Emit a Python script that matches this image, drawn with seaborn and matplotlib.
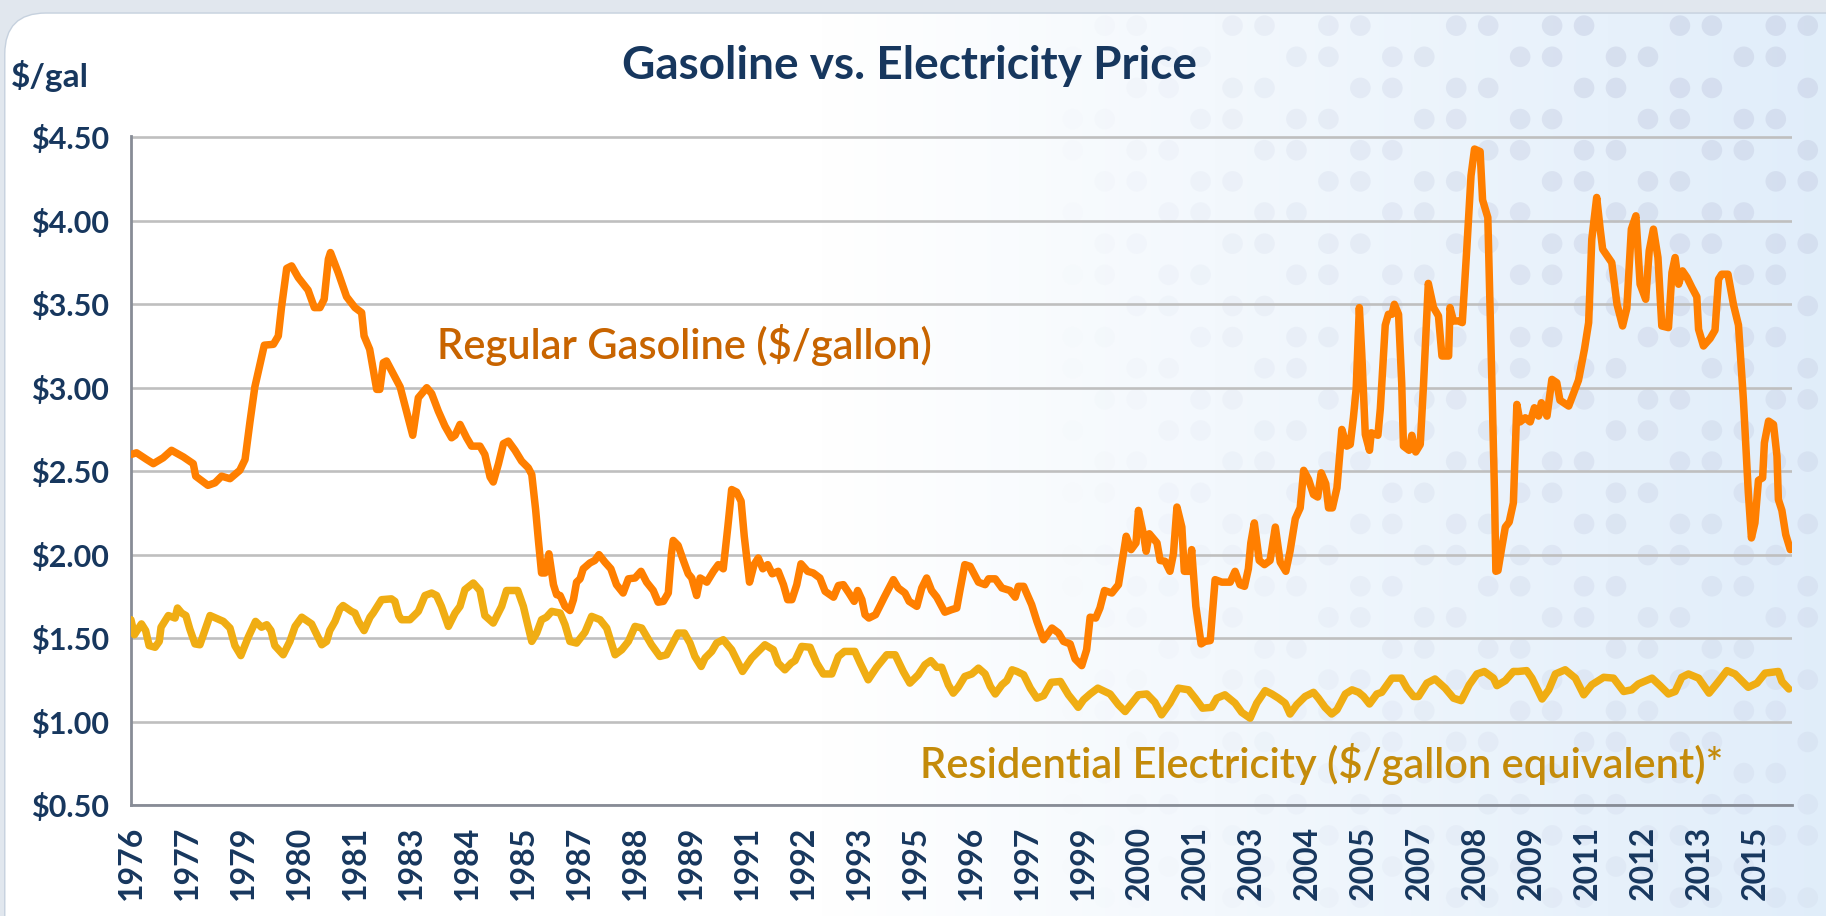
import numpy as np
import matplotlib
matplotlib.use('Agg')
import matplotlib.pyplot as plt
import seaborn as sns
from matplotlib.patches import FancyBboxPatch

# values; month index 0 = first month on the axis
gas_month = [0, 1.6, 4.5, 6.4, 9.2, 11.6, 15, 17.8, 18.5, 22, 24, 25.9, 28.3, 31.1, 32.6, 34, 35.4, 38.1,
             40.7, 42.1, 43, 44.5, 45.9, 47.8, 50.6, 52.4, 54, 55.2, 56.4, 57, 59.2, 61.6, 64, 65.9, 66.6,
             68.2, 70.2, 71.1, 72.1, 73, 75, 76.9, 78.7, 80.5, 82.1, 84.5, 85.9, 87.8, 89.7, 91.6, 92.6,
             94, 95.9, 97.3, 99.7, 101.1, 102.6, 103.5, 105, 106.4, 107.8, 109.7, 111.6, 113.5, 114.5,
             115.6, 116.4, 117.3, 118.3, 119.4, 120.7, 121.6, 122.6, 124, 125.4, 126.4, 127.3, 128.3,
             129.2, 131.1, 132.5, 133.7, 135.4, 137.1, 138.7, 140.6, 142.1, 144, 145.7, 147.3, 149.2,
             150.6, 152.1, 153.5, 154.4, 154.9, 156.3, 157.8, 159.2, 160.2, 161.6, 162.6, 164.5, 166.4,
             167.8, 169.2, 170.5, 171.6, 173, 174.3, 175.2, 176.7, 178, 179.2, 180.5, 181.9, 183.2,
             184.9, 186.4, 187.6, 188.8, 190.2, 191.4, 193.3, 194.9, 196.8, 198.3, 200.7, 202.1, 203.5,
             205.1, 206.6, 207.6, 208.8, 209.7, 210.8, 212.7, 215.2, 216.8, 217.8, 219.2, 221.1, 222.3,
             224.5, 225.9, 227.3, 228.7, 230.2, 232.5, 234.4, 235.9, 236.8, 238.2, 239.7, 242.1, 244,
             245, 246.9, 248.8, 251.1, 252.6, 253.5, 255, 257.3, 258.8, 260.7, 263.1, 265, 266.4, 268.3,
             269.7, 271.6, 273, 274, 275.6, 276.8, 278.1, 280.2, 282.1, 283, 284.3, 285.7, 287.1, 287.8,
             289.3, 290, 290.9, 293.1, 294, 295.4, 296.8, 297.8, 298.8, 300.2, 300.9, 302.3, 303, 304.2,
             305.7, 306.8, 308.3, 309.7, 311.6, 314, 315.4, 316.8, 318.1, 319.2, 319.9, 320.9, 322.3,
             323.8, 325.4, 326.9, 328.3, 329.9, 331.1, 332.6, 334, 335, 336.4, 337.8, 339, 340, 341.3,
             342.1, 343.2, 344.5, 345.9, 347.3, 348.3, 349.2, 350, 350.9, 351.6, 352.6, 353.8, 354.3,
             356.2, 356.9, 358.3, 359.2, 360.2, 360.9, 362.1, 363, 363.5, 365.1, 365.9, 367, 368.3,
             369.2, 370.6, 372.1, 373.5, 374.5, 376.4, 376.8, 377.8, 379.2, 380.3, 381.6, 382.8, 383.8,
             385.4, 386.1, 387.6, 388.7, 389.5, 389.9, 390.5, 391.6, 392.6, 393.7, 394.9, 395.9, 396.8,
             398.3, 399.7, 400.9, 402.1, 402.9, 404.5, 405.9, 407.3, 408.2, 410.7, 413.5, 415.2, 416.4,
             417.3, 418.7, 419.7, 420.4, 423, 424.5, 426.1, 427.3, 428.6, 429.9, 431.1, 432.7, 433.7,
             434.9, 436.2, 437.3, 439.2, 440.2, 441.1, 442.1, 443.2, 444.5, 445.9, 447.3, 447.8, 449.2,
             451.1, 452.5, 453.5, 454.4, 456.2, 457.8, 459.2, 460.6, 462, 462.9, 463.9, 464.9, 466.1,
             466.6, 467.8, 469.2, 470.2, 470.6, 471.6, 472.7, 474]
gas_price = [2.60, 2.61, 2.57, 2.545, 2.58, 2.625, 2.585, 2.545, 2.47, 2.415, 2.43, 2.47, 2.455, 2.505,
             2.57, 2.795, 3.005, 3.255, 3.26, 3.31, 3.48, 3.715, 3.73, 3.66, 3.585, 3.48, 3.48, 3.53,
             3.77, 3.81, 3.69, 3.545, 3.48, 3.45, 3.31, 3.23, 2.99, 2.99, 3.15, 3.16, 3.08, 3.005, 2.86,
             2.715, 2.94, 3.0, 2.965, 2.86, 2.77, 2.70, 2.715, 2.78, 2.70, 2.65, 2.65, 2.60, 2.465,
             2.435, 2.545, 2.665, 2.68, 2.625, 2.56, 2.52, 2.48, 2.27, 2.085, 1.89, 1.89, 2.005, 1.82,
             1.76, 1.755, 1.69, 1.665, 1.73, 1.835, 1.855, 1.915, 1.95, 1.965, 2.0, 1.955, 1.915, 1.82,
             1.77, 1.855, 1.86, 1.90, 1.835, 1.785, 1.715, 1.72, 1.77, 2.005, 2.085, 2.055, 1.965,
             1.885, 1.86, 1.755, 1.86, 1.835, 1.90, 1.94, 1.915, 2.165, 2.39, 2.375, 2.32, 2.11, 1.835,
             1.94, 1.98, 1.915, 1.94, 1.885, 1.90, 1.82, 1.73, 1.73, 1.82, 1.945, 1.90, 1.89, 1.86,
             1.78, 1.745, 1.815, 1.82, 1.77, 1.72, 1.785, 1.73, 1.64, 1.62, 1.64, 1.745, 1.81, 1.85,
             1.80, 1.77, 1.72, 1.69, 1.80, 1.86, 1.785, 1.745, 1.655, 1.67, 1.68, 1.785, 1.94, 1.93,
             1.835, 1.82, 1.855, 1.855, 1.80, 1.785, 1.745, 1.81, 1.81, 1.70, 1.60, 1.49, 1.56, 1.53,
             1.48, 1.465, 1.375, 1.335, 1.43, 1.625, 1.62, 1.68, 1.785, 1.77, 1.82, 1.94, 2.11, 2.03,
             2.07, 2.265, 2.115, 2.02, 2.125, 2.07, 1.965, 1.96, 1.90, 2.005, 2.285, 2.165, 1.90, 1.90,
             2.03, 1.69, 1.465, 1.48, 1.485, 1.85, 1.835, 1.835, 1.90, 1.82, 1.81, 1.915, 2.07, 2.19,
             1.965, 1.94, 1.965, 2.165, 1.955, 1.90, 2.02, 2.215, 2.28, 2.505, 2.45, 2.36, 2.345, 2.49,
             2.425, 2.28, 2.28, 2.40, 2.75, 2.65, 2.66, 2.82, 2.995, 3.48, 3.2, 2.72, 2.625, 2.73,
             2.715, 2.875, 3.375, 3.44, 3.44, 3.50, 3.44, 3.03, 2.65, 2.625, 2.715, 2.615, 2.66, 3.005,
             3.625, 3.48, 3.43, 3.19, 3.19, 3.48, 3.40, 3.40, 3.39, 3.835, 4.27, 4.43, 4.415, 4.125,
             4.02, 3.085, 2.375, 1.90, 1.905, 2.045, 2.165, 2.195, 2.31, 2.90, 2.795, 2.82, 2.795,
             2.88, 2.83, 2.91, 2.83, 3.05, 3.03, 2.925, 2.89, 3.045, 3.23, 3.39, 3.89, 4.14, 3.95,
             3.83, 3.75, 3.50, 3.37, 3.475, 3.95, 4.03, 3.62, 3.53, 3.82, 3.95, 3.78, 3.37, 3.36,
             3.69, 3.78, 3.62, 3.70, 3.66, 3.60, 3.545, 3.35, 3.25, 3.295, 3.345, 3.65, 3.68, 3.68,
             3.495, 3.375, 2.93, 2.375, 2.10, 2.19, 2.445, 2.46, 2.67, 2.80, 2.78, 2.59, 2.33, 2.265,
             2.12, 2.03]

elec_month = [0, 1, 3, 4.2, 5.2, 6.9, 8.1, 8.6, 10.7, 12.6, 13.3, 14.5, 15.7, 16.8, 18.3, 19.7, 22.6,
              26.4, 28.3, 29.7, 31.4, 33.5, 35.6, 37.3, 38.8, 40, 41.1, 43.5, 45.4, 46.9, 48.8, 51.6,
              54.5, 55.9, 56.8, 58.3, 59.7, 60.6, 63, 64, 65, 66.6, 68.3, 69.2, 71.6, 74.4, 75.4, 76.5,
              77.3, 79.7, 82.1, 84, 85.9, 87.3, 88.7, 90.7, 92.6, 94, 95.4, 97.8, 99.7, 101.1, 103.5,
              105.9, 107.3, 110.5, 112.1, 113, 114.5, 115.9, 117.3, 118.7, 120.2, 122.6, 124, 125.4,
              127.3, 129.7, 131.6, 134, 135.9, 138.3, 140.2, 142.1, 144, 145.9, 148.7, 151.1, 153,
              154.4, 156.3, 158.1, 159.7, 161.1, 162.9, 164, 165.9, 167.3, 169.2, 171.6, 174.7, 177.3,
              181.1, 183.5, 184.9, 186.8, 188.6, 189.7, 191.6, 194, 195.9, 197.8, 200.2, 202.1, 203.8,
              206.8, 208.3, 210.6, 213, 215.9, 218.3, 220.6, 222.5, 224.9, 226.8, 228.5, 230.2, 231.6,
              233.5, 234.9, 236.3, 238.2, 240.2, 242.1, 244, 245.5, 246.9, 248.8, 250.2, 251.7, 253.1,
              255, 256.9, 258.8, 260.7, 262.9, 265.5, 267.8, 269.7, 270.6, 272.1, 274, 276.2, 279.7,
              282.1, 284, 285.9, 287.8, 290.2, 292.5, 294.4, 296.8, 299.2, 302.1, 304, 306.1, 308.7,
              310.2, 312.5, 315.4, 317.3, 319.7, 321.6, 324, 325.9, 327.8, 329.7, 331.1, 333, 335.4,
              337.8, 339.2, 341.1, 343, 344.5, 346.9, 348.8, 350.7, 352.1, 353.8, 355.9, 357.3, 360.2,
              362.9, 364.5, 366.4, 367.8, 370.2, 372.5, 375.4, 377.8, 380, 382.3, 384.5, 386.6, 389.2,
              390.2, 392.6, 394.9, 396.3, 398.7, 400.2, 403.1, 405, 406.9, 409.7, 412.6, 415, 417.3,
              420.7, 423.5, 426.4, 428.7, 430.6, 434.5, 436.8, 439.2, 441.1, 443, 444.9, 447.8, 450.8,
              453.5, 455.9, 458.2, 462, 464.5, 466.8, 470.6, 471.6, 473.6]
elec_price = [1.61, 1.52, 1.585, 1.545, 1.455, 1.445, 1.48, 1.565, 1.635, 1.62, 1.68, 1.65, 1.635,
              1.555, 1.465, 1.46, 1.635, 1.6, 1.56, 1.455, 1.395, 1.505, 1.6, 1.565, 1.58, 1.545,
              1.455, 1.40, 1.48, 1.57, 1.625, 1.585, 1.46, 1.48, 1.545, 1.60, 1.675, 1.695, 1.66, 1.65,
              1.60, 1.545, 1.625, 1.65, 1.73, 1.735, 1.72, 1.635, 1.61, 1.61, 1.66, 1.755, 1.77, 1.755,
              1.69, 1.57, 1.65, 1.69, 1.79, 1.83, 1.785, 1.635, 1.59, 1.69, 1.785, 1.785, 1.69, 1.61,
              1.48, 1.53, 1.61, 1.625, 1.66, 1.65, 1.58, 1.48, 1.47, 1.535, 1.63, 1.61, 1.56, 1.40,
              1.43, 1.48, 1.57, 1.56, 1.46, 1.39, 1.40, 1.455, 1.53, 1.53, 1.47, 1.39, 1.33, 1.38,
              1.42, 1.47, 1.49, 1.43, 1.30, 1.38, 1.46, 1.43, 1.35, 1.31, 1.35, 1.365, 1.45, 1.445,
              1.35, 1.285, 1.285, 1.39, 1.42, 1.42, 1.35, 1.25, 1.325, 1.40, 1.40, 1.30, 1.23, 1.28,
              1.34, 1.365, 1.325, 1.325, 1.22, 1.17, 1.205, 1.27, 1.285, 1.32, 1.285, 1.21, 1.165,
              1.22, 1.245, 1.31, 1.30, 1.28, 1.20, 1.14, 1.155, 1.235, 1.24, 1.16, 1.11, 1.085, 1.13,
              1.165, 1.20, 1.165, 1.10, 1.06, 1.11, 1.16, 1.165, 1.115, 1.04, 1.11, 1.20, 1.19, 1.14,
              1.08, 1.085, 1.14, 1.16, 1.11, 1.055, 1.02, 1.11, 1.185, 1.165, 1.14, 1.11, 1.045, 1.10,
              1.15, 1.175, 1.14, 1.085, 1.045, 1.07, 1.165, 1.19, 1.175, 1.15, 1.105, 1.165, 1.175,
              1.26, 1.26, 1.20, 1.15, 1.15, 1.23, 1.255, 1.20, 1.14, 1.125, 1.22, 1.285, 1.30, 1.26,
              1.215, 1.245, 1.30, 1.30, 1.305, 1.26, 1.135, 1.19, 1.285, 1.31, 1.26, 1.16, 1.22, 1.265,
              1.26, 1.18, 1.19, 1.225, 1.26, 1.215, 1.165, 1.18, 1.265, 1.285, 1.26, 1.17, 1.24, 1.305,
              1.285, 1.205, 1.23, 1.29, 1.30, 1.24, 1.195]

year_labels = ['1976', '1977', '1979', '1980', '1981', '1983', '1984', '1985', '1987', '1988',
               '1989', '1991', '1992', '1993', '1995', '1996', '1997', '1999', '2000', '2001',
               '2003', '2004', '2005', '2007', '2008', '2009', '2011', '2012', '2013', '2015']
price_ticks = [0.5, 1.0, 1.5, 2.0, 2.5, 3.0, 3.5, 4.0, 4.5]

sns.set_style('white')
plt.rcParams['font.family'] = ['Lato', 'DejaVu Sans']

navy = '#17375e'
axis_grey = '#878c96'

fig = plt.figure(figsize=(18.26, 9.16), dpi=100, facecolor='#e1e7ee')

# background panel: white card with a pale blue fade and dots on the right
bg = fig.add_axes([0, 0, 1, 1], zorder=-10)
bg.set_xlim(0, 1)
bg.set_ylim(0, 1)
bg.axis('off')
panel = FancyBboxPatch((0.003, -0.2), 1.2, 1.185, boxstyle='round,pad=0,rounding_size=0.022',
                       mutation_aspect=1826 / 916, fc='white', ec='#c6d1de', lw=2)
bg.add_patch(panel)
ramp = np.clip((np.linspace(0, 1, 400) - 0.45) / 0.55, 0, 1)
fade = np.ones((2, 400, 4))
fade[..., 0] = 1 - 0.12 * ramp
fade[..., 1] = 1 - 0.07 * ramp
fade[..., 2] = 1 - 0.02 * ramp
im = bg.imshow(fade, extent=[0, 1, 0, 1], aspect='auto', zorder=1)
im.set_clip_path(panel)
dx, dy = 0.0175, 0.034
gx, gy = np.meshgrid(np.arange(0.57, 1.0, dx), np.arange(0.02, 1.0, dy))
ii, jj = np.meshgrid(np.arange(gx.shape[1]), np.arange(gx.shape[0]))
keep = ((ii * 5 + jj * 3) % 7) < 4
strength = np.clip((gx - 0.57) / 0.3, 0, 1) * (0.35 + 0.65 * gy)
cols = np.zeros((keep.sum(), 4))
cols[:, 0], cols[:, 1], cols[:, 2] = 0.76, 0.79, 0.88
cols[:, 3] = 0.45 * strength[keep]
bg.scatter(gx[keep], gy[keep], s=220, c=cols, linewidths=0, zorder=2)

# main chart
ax = fig.add_axes([0.0717, 0.1212, 0.9097, 0.7303])
ax.patch.set_alpha(0)
sns.lineplot(x=gas_month, y=gas_price, ax=ax, color='#ff7f00', linewidth=5.4,
             estimator=None, sort=False, zorder=4)
sns.lineplot(x=elec_month, y=elec_price, ax=ax, color='#f0ad13', linewidth=5.4,
             estimator=None, sort=False, zorder=3)

ax.set_xlim(0, 474.5)
ax.set_ylim(0.5, 4.508)
ax.set_xticks(range(0, 465, 16))
ax.set_xticklabels(year_labels, rotation=90)
ax.set_yticks(price_ticks)
ax.set_yticklabels([r'\$%.2f' % v for v in price_ticks])
ax.set_xlabel('')
ax.set_ylabel('')
ax.yaxis.grid(True, color='#bfbfbf', linewidth=1.9)
ax.xaxis.grid(False)
for side in ['top', 'right']:
    ax.spines[side].set_visible(False)
for side in ['left', 'bottom']:
    ax.spines[side].set_color(axis_grey)
    ax.spines[side].set_linewidth(2)
ax.tick_params(axis='both', length=9, width=2, color=axis_grey, labelcolor=navy)
ax.tick_params(axis='y', pad=7, labelsize=22)
ax.tick_params(axis='x', pad=6, labelsize=23)
for lab in ax.get_xticklabels() + ax.get_yticklabels():
    lab.set_fontweight('bold')

ax.text(0.184, 0.688, r'Regular Gasoline (\$/gallon)', transform=ax.transAxes, fontsize=30,
        color='#c86400', fontweight='semibold', va='center', ha='left')
ax.text(0.475, 0.061, r'Residential Electricity (\$/gallon equivalent)*', transform=ax.transAxes,
        fontsize=30, color='#c48b0a', fontweight='semibold', va='center', ha='left')

fig.text(0.498, 0.928, 'Gasoline vs. Electricity Price', ha='center', va='center',
         fontsize=33, fontweight='bold', color=navy)
fig.text(0.006, 0.917, r'\$/gal', ha='left', va='center', fontsize=24, fontweight='bold', color=navy)

fig.savefig('out.png', dpi=100, facecolor=fig.get_facecolor())
